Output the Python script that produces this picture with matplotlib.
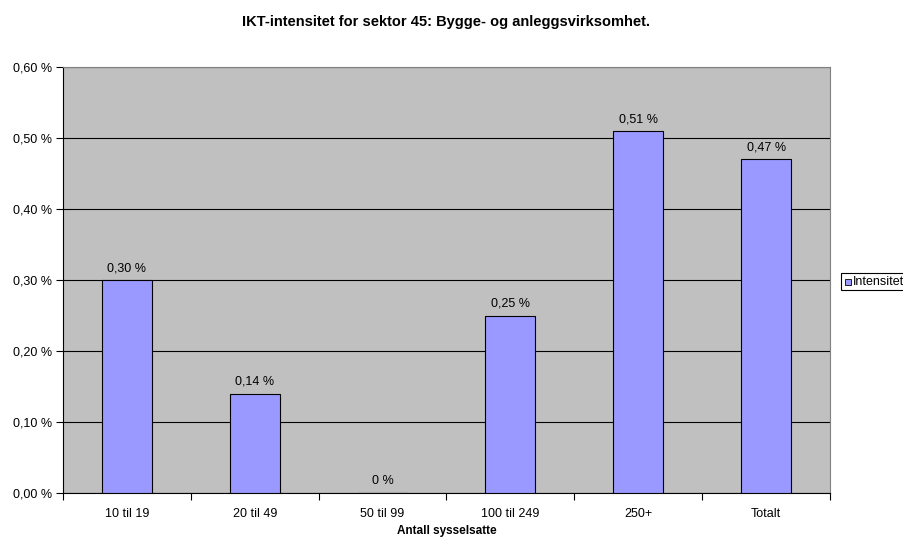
import matplotlib.pyplot as plt
from matplotlib.patches import Rectangle
from matplotlib.ticker import FuncFormatter

plt.rcParams['font.family'] = ['Liberation Sans', 'DejaVu Sans']

categories = ['10 til 19', '20 til 49', '50 til 99', '100 til 249', '250+', 'Totalt']
values = [0.30, 0.14, 0.0, 0.25, 0.51, 0.47]
labels = ['0,30 %', '0,14 %', '0 %', '0,25 %', '0,51 %', '0,47 %']

fig = plt.figure(figsize=(9.04, 5.39), dpi=100)
ax = fig.add_axes([63/904, 1 - 493/539, (830-63)/904, (493-67)/539])
ax.set_facecolor('#C0C0C0')

x = range(len(categories))
ax.bar(x, values, width=0.39, color='#9999FF', edgecolor='black', linewidth=0.8, zorder=3)
for xi, v, lab in zip(x, values, labels):
    ax.text(xi, v + 0.008, lab, ha='center', va='bottom', fontsize=9, zorder=4)

ax.set_xlim(-0.5, len(categories) - 0.5)
ax.set_ylim(0, 0.6)
ax.set_yticks([0, 0.1, 0.2, 0.3, 0.4, 0.5, 0.6])
ax.yaxis.set_major_formatter(FuncFormatter(lambda v, p: f'{v:.2f} %'.replace('.', ',')))
ax.grid(axis='y', color='black', linewidth=0.8, zorder=1)

ax.set_xticks([i - 0.5 for i in range(len(categories) + 1)])
ax.set_xticklabels([])
ax.set_xticks(list(x), minor=True)
ax.set_xticklabels(categories, minor=True)
ax.tick_params(axis='x', which='minor', length=0, pad=11, labelsize=9)
ax.tick_params(axis='x', which='major', length=5, direction='out')
ax.tick_params(axis='y', length=5, direction='out', labelsize=9, pad=3)

for s in ['top', 'right']:
    ax.spines[s].set_color('#808080')
    ax.spines[s].set_linewidth(0.8)
for s in ['left', 'bottom']:
    ax.spines[s].set_color('black')
    ax.spines[s].set_linewidth(0.8)

# x axis title sits right at the bottom edge
fig.text((63+830)/2/904, 1 - 531/539, 'Antall sysselsatte', fontsize=8.5, fontweight='bold',
         ha='center', va='center')
fig.suptitle('IKT-intensitet for sektor 45: Bygge- og anleggsvirksomhet.', fontsize=10.5,
             fontweight='bold', y=1 - 22/539, va='center', x=(63+830)/2/904)

# legend box, cut off at the right edge like the original
fig.patches.append(Rectangle((841/904, 1 - 290/539), 80/904, 17/539, transform=fig.transFigure,
                             facecolor='white', edgecolor='black', linewidth=0.8))
fig.patches.append(Rectangle((845/904, 1 - 285/539), 6/904, 6/539, transform=fig.transFigure,
                             facecolor='#9999FF', edgecolor='black', linewidth=0.6))
fig.text(853/904, 1 - 281.5/539, 'Intensitet', fontsize=9, va='center', ha='left')

fig.savefig('out.png', dpi=100)
